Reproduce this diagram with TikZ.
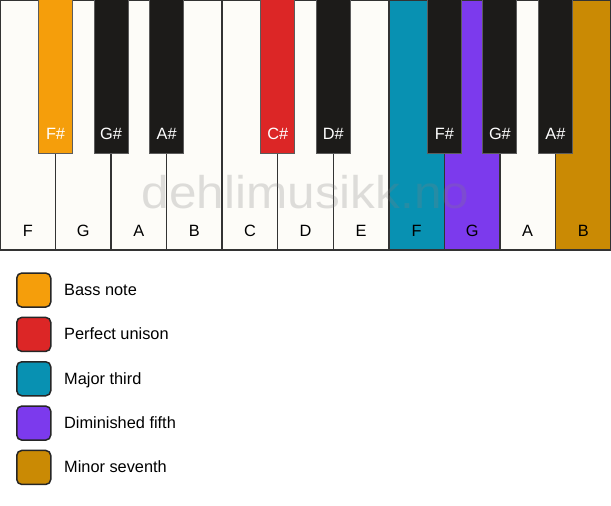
\documentclass[tikz,border=0pt]{standalone}
\usepackage{fontspec}
\setmainfont{Liberation Sans}
\definecolor{keywhite}{HTML}{FDFCF8}
\definecolor{keyblack}{HTML}{1C1B19}
\definecolor{keyline}{HTML}{333333}
\definecolor{cbass}{HTML}{F59E0B}
\definecolor{cunison}{HTML}{DC2626}
\definecolor{cthird}{HTML}{0891B2}
\definecolor{cfifth}{HTML}{7C3AED}
\definecolor{cseventh}{HTML}{CA8A04}
\begin{document}
\begin{tikzpicture}[x=1bp,y=-1bp,
  whitekey/.style={draw=keyline, line width=1.5bp, fill=keywhite, rectangle, inner sep=0, outer sep=0,
    minimum width=55.545bp, minimum height=250bp, anchor=north west},
  blackkey/.style={draw=keyline!80, line width=1bp, fill=keyblack, rectangle, inner sep=0, outer sep=0,
    minimum width=34bp, minimum height=153bp, anchor=north},
  wlabel/.style={font=\fontsize{16.4}{19}\selectfont, text=black, anchor=base, inner sep=0},
  blabel/.style={font=\fontsize{16.4}{19}\selectfont, text=white, anchor=base, inner sep=0},
  legbox/.style={draw=black!85, line width=1.5bp, rounded corners=5bp, rectangle, inner sep=0,
    minimum width=34bp, minimum height=34bp, anchor=north west},
  legtext/.style={font=\fontsize{16.4}{19}\selectfont, text=black, anchor=base west, inner sep=0},
  watermark/.style={font=\fontsize{46}{50}\selectfont, text=gray, opacity=0.25, xscale=1.08}
]
\useasboundingbox (0,0) rectangle (611,506);
\fill[white] (0,0) rectangle (611,506);
% white keys
\def\w{55.545}
\foreach \i/\n/\c in {0/F/keywhite,1/G/keywhite,2/A/keywhite,3/B/keywhite,4/C/keywhite,5/D/keywhite,6/E/keywhite,7/F/cthird,8/G/cfifth,9/A/keywhite,10/B/cseventh}{
  \node[whitekey, fill=\c] (w\i) at ({\i*\w},0) {};
  \node[wlabel] (wl\i) at ({(\i+0.5)*\w},236.5) {\n};
}
% black keys
\foreach \j/\n/\c in {1/F\#/cbass,2/G\#/keyblack,3/A\#/keyblack,5/C\#/cunison,6/D\#/keyblack,8/F\#/keyblack,9/G\#/keyblack,10/A\#/keyblack}{
  \node[blackkey, fill=\c] (b\j) at ({\j*\w},0) {};
  \node[blabel] (bl\j) at ({\j*\w},139.3) {\n};
}
% watermark
\node[watermark, anchor=base] (wm) at (305.5,208.3) {dehlimusikk.no};
% legend
\foreach \k/\c/\t in {0/cbass/Bass note,1/cunison/Perfect unison,2/cthird/Major third,3/cfifth/Diminished fifth,4/cseventh/Minor seventh}{
  \node[legbox, fill=\c] (lb\k) at (16,{272.3+\k*44.35}) {};
  \node[legtext] (lt\k) at (64,{295.5+\k*44.35}) {\t};
}
\end{tikzpicture}
\end{document}
